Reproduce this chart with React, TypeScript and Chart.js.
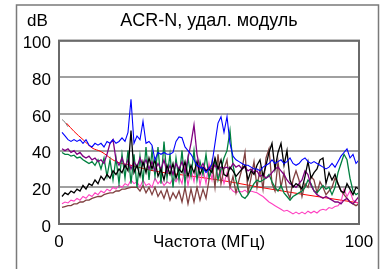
import React, { useEffect, useRef } from "react";
import { Chart, registerables } from "chart.js";

Chart.register(...registerables);

const FONT = "'Liberation Sans', Arial, sans-serif";

const TITLE = "ACR-N, удал. модуль";
const X_TITLE = "Частота (МГц)";
const Y_UNIT = "dB";

const FREQ = [
  1, 2, 3, 4, 5, 6, 7, 8, 9, 10,
  11, 12, 13, 14, 15, 16, 17, 18, 19, 20,
  21, 22, 23, 24, 25, 26, 27, 28, 29, 30,
  31, 32, 33, 34, 35, 36, 37, 38, 39, 40,
  41, 42, 43, 44, 45, 46, 47, 48, 49, 50,
  51, 52, 53, 54, 55, 56, 57, 58, 59, 60,
  61, 62, 63, 64, 65, 66, 67, 68, 69, 70,
  71, 72, 73, 74, 75, 76, 77, 78, 79, 80,
  81, 82, 83, 84, 85, 86, 87, 88, 89, 90,
  91, 92, 93, 94, 95, 96, 97, 98, 99, 100,
];

const BLUE = [
  50, 48, 46, 45, 46, 45, 46, 44, 46, 43,
  42, 44, 43, 44, 42, 45, 44, 46, 44, 45,
  47, 45, 50, 68, 44, 48, 46, 56, 44, 45,
  43, 35, 39, 38, 39, 38, 38, 39, 45, 47.5,
  47, 42, 40, 38, 35, 32, 31, 30.5, 28, 30,
  33, 44, 55, 58.5, 50, 58.5, 44, 37, 35, 34,
  33, 32, 32, 31, 30, 30, 29, 31, 32, 33,
  35, 33, 34, 35, 33, 34, 36, 33, 32, 33,
  35, 36, 34, 33, 34, 33, 32, 31, 30, 31,
  33, 31, 34, 37, 39, 41, 36, 38, 33, 35,
];

const GREEN = [
  39, 38, 38, 37, 37.5, 36, 36.5, 35, 34, 33,
  34, 32, 35, 30, 36, 26, 35, 24, 36, 22,
  38, 25, 40, 22, 38, 20, 37, 23, 42, 24,
  40, 26, 42, 22, 45, 25, 38, 20, 36, 24,
  40, 22, 36, 26, 40, 24, 34, 27, 38, 25,
  30, 35, 24, 30, 36, 40, 51, 32, 24, 18,
  15, 14, 16, 19, 22, 24, 23, 24, 25, 27,
  23, 20, 18, 21, 17, 15, 13, 15, 16, 17,
  18, 20, 24, 22, 18, 17, 19, 21, 19, 20,
  16, 20, 28, 33, 38, 35, 25, 18, 16, 17,
];

const BLACK = [
  15, 17, 16, 18, 17, 19, 18, 21, 19, 22,
  21, 24, 22, 26, 24, 27, 25, 29, 27, 30,
  28, 32, 29, 51, 28, 32, 26, 34, 28, 36,
  30, 35, 26, 30, 24, 32, 27, 33, 25, 30,
  28, 34, 26, 32, 28, 34, 27, 31, 29, 30,
  28, 36, 30, 35, 27, 26, 31, 29, 26, 28,
  30, 32, 24, 29, 27, 32, 35, 26, 32, 39,
  44, 30, 39, 44, 32, 40, 24, 20, 22, 21,
  19, 26, 34, 25, 28, 30, 35, 36, 22, 28,
  24, 27, 22, 18, 17, 22, 19, 16, 20, 19,
];

const PURPLE = [
  41, 40, 41, 39, 40, 38, 39, 37, 36, 37,
  35, 36, 34, 35, 33, 38, 44, 46, 35, 32,
  36, 31, 35, 30, 34, 31, 36, 32, 35, 30,
  34, 29, 33, 30, 35, 28, 32, 27, 33, 30,
  34, 28, 36, 44, 54, 38, 30, 33, 29, 31,
  30, 32, 30, 31, 30.5, 31, 30, 33, 31, 32,
  30, 31, 29, 30, 28, 29, 26, 27, 25, 26,
  28, 30, 31, 29, 27, 24, 22, 21, 20, 22,
  24, 29, 27, 21, 18, 16, 15, 14, 15, 14,
  13, 12, 12, 11, 13, 14, 12, 11, 13, 15,
];

const PINK = [
  11, 12, 11.5, 13, 12.5, 14, 13, 15, 14, 16,
  15, 17, 16, 18, 17, 19, 18, 20, 19, 21,
  20, 22, 21, 24, 22, 23, 20, 24, 21, 22,
  20, 25, 22, 24, 21, 23, 22, 25, 23, 26,
  22, 32, 21, 30, 23, 34, 21, 30, 22, 33,
  24, 35, 26, 30, 22, 28, 20, 18, 17, 18,
  17.5, 18.5, 17, 18, 17.5, 17, 16, 15, 13.5, 12,
  11, 10, 9, 8, 7, 7.5, 6.5, 5.5, 6.5, 5.5,
  6.5, 5.5, 7, 6, 7, 6, 7.5, 8, 7.5, 9,
  8.5, 9.5, 10, 12, 19, 15, 18, 13, 12, 11,
];

const BROWN = [
  9, 9.5, 10, 10, 11, 11, 12, 12, 13, 13,
  14, 14.5, 15, 15, 16, 16.5, 17, 17, 18, 18,
  19, 19, 19.5, 20, 20, 20, 18, 21, 17, 20,
  16, 20, 15, 18, 14, 19, 13, 17, 14, 18,
  12, 20, 11, 19, 12, 20, 13, 19, 14, 24,
  34, 20, 38, 22, 30, 35, 20, 26, 17, 24,
  30, 39, 17, 25, 34, 20, 30, 19, 36, 41,
  22, 18, 34, 20, 28, 18, 14, 24, 29, 24,
  15, 22, 20, 26, 24, 17, 23, 20, 16, 18,
  20, 25, 22, 18, 16, 14, 12, 11, 10, 11,
];

const RED_FREQ = [2.5, 5, 8, 11, 14, 19, 24, 30, 35, 40, 46, 52, 57, 67, 80, 90, 100];
const RED = [55, 50.5, 46, 41.5, 39.5, 34, 32, 29.5, 28, 27, 25.7, 24.3, 23, 20, 16.5, 14, 11.5];

const GRAY_FREQ = [1, 2, 3];
const GRAY = [57, 55.5, 53];

const X_TICKS = [0, 100];

const framePlugin = {
  id: "framePlugin",
  beforeDraw(chart: any) {
    const ctx = chart.ctx;
    ctx.save();
    ctx.fillStyle = "#ffffff";
    ctx.fillRect(0, 0, chart.width, chart.height);
    ctx.restore();
  },
  afterDraw(chart: any) {
    const ctx = chart.ctx;
    const a = chart.chartArea;
    ctx.save();
    ctx.strokeStyle = "#6a6a6a";
    ctx.lineWidth = 2;
    ctx.strokeRect(a.left, a.top, a.right - a.left, a.bottom - a.top);
    ctx.strokeStyle = "#7a7a7a";
    ctx.lineWidth = 1.5;
    ctx.beginPath();
    ctx.moveTo(16.5, chart.height + 2);
    ctx.lineTo(16.5, 5);
    ctx.lineTo(378.5, 5);
    ctx.lineTo(378.5, chart.height + 2);
    ctx.stroke();
    ctx.fillStyle = "#000";
    ctx.font = `17px ${FONT}`;
    ctx.textAlign = "center";
    ctx.textBaseline = "middle";
    ctx.fillText(Y_UNIT, 37.5, 21.5);
    ctx.restore();
  },
};

export default function App() {
  const ref = useRef<HTMLCanvasElement | null>(null);

  useEffect(() => {
    if (!ref.current) return;
    const line = (label: string, data: any, color: string, width = 1.1, extra: any = {}) => ({
      label,
      data,
      borderColor: color,
      backgroundColor: color,
      borderWidth: width,
      pointRadius: 0,
      fill: false,
      tension: 0,
      ...extra,
    });
    const chart = new Chart(ref.current, {
      type: "line",
      data: {
        labels: FREQ,
        datasets: [
          line("blue", BLUE, "#0000ff"),
          line("black", BLACK, "#000000", 1.3),
          line("purple", PURPLE, "#800080", 1.3),
          line("green", GREEN, "#008040", 1.3),
          line("brown", BROWN, "#804040", 1.3),
          line("pink", PINK, "#ff40c0"),
          line(
            "red",
            RED_FREQ.map((f, i) => ({ x: f, y: RED[i] })),
            "#ff0000",
            1,
            { cubicInterpolationMode: "monotone" }
          ),
          line(
            "gray",
            GRAY_FREQ.map((f, i) => ({ x: f, y: GRAY[i] })),
            "#808080",
            1
          ),
        ],
      },
      options: {
        animation: false,
        responsive: false,
        events: [],
        layout: { padding: { left: 0, right: 26, top: 0, bottom: 0 } },
        plugins: {
          legend: { display: false },
          tooltip: { enabled: false },
          title: {
            display: true,
            text: TITLE,
            fullSize: false,
            color: "#000",
            font: { family: FONT, size: 18, weight: "normal" },
            padding: { top: 10, bottom: 9 },
          },
        },
        scales: {
          x: {
            type: "linear",
            min: 0,
            max: 100,
            afterBuildTicks: (s: any) => {
              s.ticks = X_TICKS.map((v) => ({ value: v }));
            },
            afterFit: (s: any) => {
              s.height = 45;
            },
            grid: { display: false, drawTicks: false },
            border: { display: false },
            ticks: {
              color: "#000",
              padding: 8,
              maxRotation: 0,
              font: { family: FONT, size: 17 },
            },
            title: {
              display: true,
              text: X_TITLE,
              color: "#000",
              font: { family: FONT, size: 17 },
              padding: { top: 0, bottom: 16 },
            },
          },
          y: {
            min: 0,
            max: 100,
            afterFit: (s: any) => {
              s.width = 59;
            },
            grid: { color: "#a0a0a0", lineWidth: 2, drawTicks: false },
            border: { display: false },
            ticks: {
              stepSize: 20,
              color: "#000",
              padding: 8,
              labelOffset: 3,
              font: { family: FONT, size: 17 },
            },
          },
        },
      },
      plugins: [framePlugin],
    });
    return () => chart.destroy();
  }, []);

  return (
    <div style={{ position: "absolute", left: 0, top: 0, width: 385, height: 269, background: "#fff" }}>
      <canvas ref={ref} width={385} height={269} style={{ display: "block", width: 385, height: 269 }} />
    </div>
  );
}
